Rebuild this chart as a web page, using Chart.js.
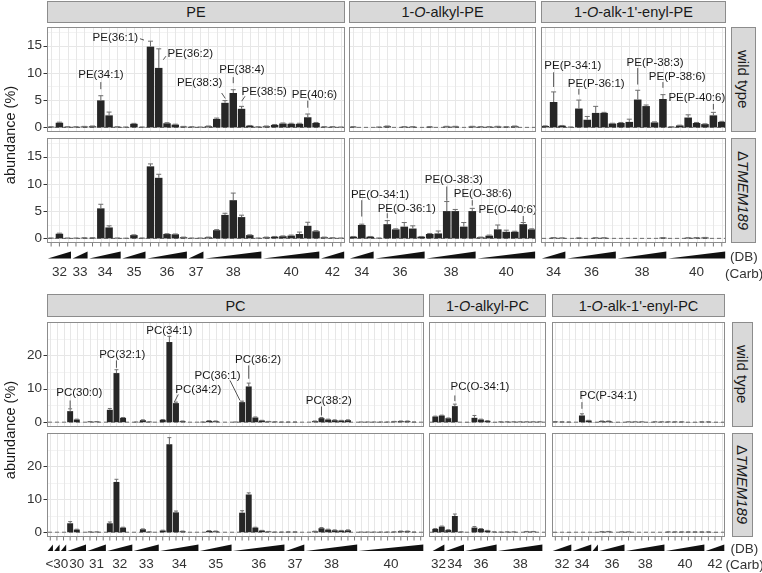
<!DOCTYPE html>
<html>
<head>
<meta charset="utf-8">
<title>PE / PC species</title>
<script src="https://cdn.jsdelivr.net/npm/chart.js@4.4.1/dist/chart.umd.min.js"></script>
<style>
  html, body { margin: 0; padding: 0; background: #fff; }
  body { position: relative; width: 762px; height: 573px; overflow: hidden; font-family: "Liberation Sans", Arial, sans-serif; }
  canvas { position: absolute; left: 0; top: 0; }
  .strip { position: absolute; box-sizing: border-box; background: #d9d9d9; border: 1px solid #8c8c8c; display: flex; align-items: center; justify-content: center; font-size: 14.5px; color: #1a1a1a; white-space: nowrap; }
  .strip.v { font-size: 15px; }
  .strip.v span { writing-mode: vertical-rl; }
  .txt { position: absolute; font-size: 13.5px; color: #333; white-space: nowrap; transform: translateY(-50%); }
  .ytitle { position: absolute; font-size: 14.5px; color: #1a1a1a; white-space: nowrap; transform: translate(-50%, -50%) rotate(-90deg); }
</style>
</head>
<body>
<script>
// carbon groups: [carbons, first DB, species in group, optional tick label]
const peGroups = [[32,0,3],[33,0,2],[34,0,4],[35,0,3],[36,1,5],[37,1,2],[38,1,7],[40,1,7],[42,4,3]];
const peOGroups = [[34,0,3],[36,0,6],[38,1,6],[40,1,7]];
const pePGroups = [[34,0,3],[36,0,6],[38,1,6],[40,1,7]];
const pcGroups = [[26,0,1,''],[28,0,1,'<30'],[29,0,1,''],[30,0,3],[31,0,3],[32,0,4],[33,0,4],[34,0,6],[35,0,5],[36,0,8],[37,0,3],[38,0,8],[40,0,10]];
const pcOGroups = [[32,0,2],[34,0,3],[36,0,5],[38,0,7]];
const pcPGroups = [[32,0,3],[34,0,3],[35,0,1,''],[36,0,4],[38,0,6],[40,0,6],[42,0,3]];

const peTicks = [0, 5, 10, 15], peMinor = [2.5, 7.5, 12.5, 17.5];
const pcTicks = [0, 10, 20], pcMinor = [5, 15, 25];

// PE diacyl
const peWt = [0.1,0.85,0.1, 0.1,0.15, 0.2,4.95,2.2,0.1, 0.05,0.65,0.05, 14.8,10.9,0.75,0.5,0.15, 0.1,0.05, 0.2,1.55,4.5,6.3,3.4,0.3,0.1, 0.2,0.45,0.7,0.65,0.65,1.85,0.8, 0.1,0.1,0.05];
const peWtSd = [0.02,0.1,0.02, 0.02,0.03, 0.05,0.85,0.6,0.02, 0.02,0.08,0.02, 1.0,3.5,0.1,0.08,0.03, 0.02,0.02, 0.05,0.15,0.4,0.6,0.45,0.05,0.02, 0.05,0.08,0.1,0.1,0.1,0.6,0.1, 0.03,0.03,0.02];
const peKo = [0.05,0.85,0.05, 0.05,0.1, 0.1,5.5,2.0,0.05, 0.02,0.6,0.05, 13.2,11.1,0.8,0.75,0.2, 0.05,0.05, 0.2,1.5,4.3,7.0,3.9,0.6,0.05, 0.2,0.3,0.4,0.5,0.8,2.3,1.3, 0.2,0.1,0.05];
const peKoSd = [0.02,0.1,0.02, 0.02,0.02, 0.02,0.75,0.3,0.02, 0.01,0.05,0.02, 0.45,0.65,0.05,0.05,0.03, 0.02,0.02, 0.03,0.1,0.3,1.3,0.35,0.05,0.02, 0.03,0.05,0.05,0.1,0.35,0.65,0.1, 0.03,0.02,0.02];
// PE 1-O-alkyl
const peOWt = [0.1,0,0, 0.05,0.2,0,0.1,0.1,0, 0.1,0,0.15,0.15,0,0.15, 0.1,0.1,0.15,0.1,0.2,0,0];
const peOWtSd = [0.03,0,0, 0.02,0.05,0,0.03,0.03,0, 0.03,0,0.04,0.04,0,0.04, 0.03,0.03,0.04,0.03,0.05,0,0];
const peOKo = [0.3,2.45,0.3, 0.05,2.6,1.65,2.15,1.8,0.3, 0.8,0.9,5.0,5.0,2.15,5.0, 0.2,0.5,1.65,1.2,1.2,2.6,1.65];
const peOKoSd = [0.05,0.15,0.05, 0.02,0.65,0.1,0.75,0.5,0.05, 0.1,0.45,1.75,0.3,0.75,0.5, 0.03,0.1,0.8,0.3,0.1,0.3,0.1];
// PE 1-O-alk-1'-enyl
const pePWt = [0.25,4.65,0.3, 0.05,3.45,1.4,2.65,2.65,0.7, 0.8,1.0,5.1,3.9,0.9,5.2, 0.1,0.35,1.8,0.8,0.6,2.2,1.0];
const pePWtSd = [0.03,1.85,0.05, 0.02,1.55,0.6,1.2,0.1,0.05, 0.1,0.5,1.7,0.2,0.1,0.8, 0.02,0.05,0.5,0.1,0.05,0.55,0.1];
const pePKo = [0,0.12,0.08, 0,0.08,0,0.1,0.1,0, 0,0,0,0,0,0.12, 0,0,0.1,0.12,0.15,0,0];
const pePKoSd = [0,0.02,0.02, 0,0.02,0,0.02,0.02,0, 0,0,0,0,0,0.02, 0,0,0.02,0.02,0.02,0,0];
// PC diacyl
const pcWt = [0,0,0, 3.3,0.8,0, 0.15,0.15,0, 3.7,14.7,1.3,0, 0.05,0.6,0.1,0, 0.7,24.0,5.7,0.3,0,0, 0.05,0.4,0.3,0,0, 0.05,6.0,10.7,1.4,0.5,0.2,0.1,0.05, 0.05,0.05,0, 0,0.3,1.2,0.8,0.6,0.5,0.6,0, 0.05,0.05,0.05,0.05,0.05,0.2,0.3,0.3,0.05,0];
const pcWtSd = [0,0,0, 0.7,0.1,0, 0.03,0.03,0, 0.4,1.0,0.1,0, 0.02,0.1,0.02,0, 0.1,1.7,0.3,0.05,0,0, 0.02,0.05,0.05,0,0, 0.02,0.3,1.0,0.15,0.05,0.03,0.02,0.02, 0.02,0.02,0, 0,0.05,0.2,0.1,0.1,0.05,0.1,0, 0.02,0.02,0.02,0.02,0.02,0.03,0.05,0.05,0.02,0];
const pcKo = [0,0,0, 2.7,0.8,0, 0.1,0.1,0, 2.7,15.2,1.4,0, 0,0.9,0.1,0, 0.5,26.6,6.0,0.3,0,0, 0,0.4,0.3,0,0, 0,5.9,11.4,1.4,0.5,0.2,0.05,0.05, 0.1,0.1,0, 0,0.25,1.2,0.8,0.6,0.5,0.6,0, 0.05,0.05,0.05,0.05,0.05,0.1,0.3,0.3,0.05,0];
const pcKoSd = [0,0,0, 0.5,0.1,0, 0.02,0.02,0, 0.4,0.8,0.1,0, 0,0.1,0.02,0, 0.1,2.0,0.4,0.05,0,0, 0,0.05,0.05,0,0, 0,0.6,0.5,0.1,0.05,0.03,0.02,0.02, 0.02,0.02,0, 0,0.05,0.2,0.1,0.1,0.05,0.1,0, 0.02,0.02,0.02,0.02,0.02,0.03,0.05,0.05,0.02,0];
// PC 1-O-alkyl
const pcOWt = [1.7,2.0, 1.2,4.8,0, 0.05,1.3,0.8,0.4,0.05, 0.1,0.1,0.1,0.1,0.1,0.1,0.1];
const pcOWtSd = [0.1,0.1, 0.05,0.6,0, 0,0.7,0.1,0.05,0, 0.02,0.02,0.02,0.02,0.02,0.02,0.02];
const pcOKo = [1.0,1.7, 0.7,4.9,0.1, 0,1.4,1.0,0.5,0.1, 0.05,0.1,0.1,0,0.2,0.2,0];
const pcOKoSd = [0.1,0.15, 0.05,0.6,0.02, 0,0.3,0.1,0.05,0.02, 0.02,0.02,0.02,0,0.03,0.03,0];
// PC 1-O-alk-1'-enyl
const pcPWt = [0.15,0.1,0.05, 0,2.0,0.5, 0.05, 0.3,0.3,0.05,0.05, 0.1,0.1,0.1,0.05,0.1,0.1, 0.1,0.1,0.1,0.05,0.05,0.1, 0.1,0.05,0.05];
const pcPWtSd = [0.02,0.02,0.02, 0,0.5,0.05, 0, 0.05,0.05,0,0, 0.02,0.02,0.02,0,0.02,0.02, 0.02,0.02,0.02,0,0,0.02, 0.02,0,0];
const pcPKo = [0.05,0,0.05, 0,0,0, 0.05, 0.15,0.2,0,0.1, 0.1,0,0,0,0,0, 0.1,0.1,0.1,0.1,0.1,0.1, 0.1,0.05,0];
const pcPKoSd = [0,0,0, 0,0,0, 0, 0.02,0.03,0,0.02, 0.02,0,0,0,0,0, 0.02,0.02,0.02,0.02,0.02,0.02, 0.02,0,0];

// labels: [text, text x (category index), text y (value), leader from (x, y) to (x, y)]
const peWtNotes = [
  ['PE(34:1)', 6.02, 9.7, 6, 8.3, 6, 7.0],
  ['PE(36:1)', 7.75, 16.4, 10.73, 16.25, 11.22, 16.0],
  ['PE(36:2)', 16.81, 13.5, 13.87, 13.05, 13.55, 12.4],
  ['PE(38:3)', 17.95, 8.15, 20.6, 6.3, 21.04, 5.3],
  ['PE(38:4)', 23.05, 10.6, 22, 9.2, 22, 8.1],
  ['PE(38:5)', 25.74, 6.43, 23.42, 5.7, 23.02, 4.8],
  ['PE(40:6)', 31.81, 5.9, 31, 4.9, 31, 3.6]
];
const peOKoNotes = [
  ['PE(O-34:1)', 3.15, 7.96, 1, 7.0, 1, 4.0],
  ['PE(O-36:1)', 6.29, 5.5, 4, 4.6, 4, 3.7],
  ['PE(O-38:3)', 11.83, 10.7, 11, 9.5, 11, 6.9],
  ['PE(O-38:6)', 15.24, 8.1, 14, 7.0, 14, 6.0],
  ['PE(O-40:6)', 18.17, 5.2, 20, 4.1, 20, 3.05]
];
const pePWtNotes = [
  ['PE(P-34:1)', 3.28, 11.2, 1, 10.1, 1, 7.4],
  ['PE(P-36:1)', 6.06, 8.0, 4, 7.06, 4, 6.0],
  ['PE(P-38:3)', 13.06, 11.8, 11, 10.9, 11, 7.85],
  ['PE(P-38:6)', 15.7, 9.26, 14, 8.3, 14, 7.25],
  ['PE(P-40:6)', 18.03, 5.5, 20, 4.3, 20, 3.25]
];
const pcWtNotes = [
  ['PC(30:0)', 4.38, 8.7, 3, 6.5, 3, 4.2],
  ['PC(32:1)', 10.87, 20.3, 10, 18.5, 10, 16.3],
  ['PC(34:1)', 17.98, 27.5],
  ['PC(34:2)', 22.38, 9.7, 19.35, 8.3, 18.75, 6.0],
  ['PC(36:1)', 25.28, 14.0, 27.17, 12.5, 28.68, 6.5],
  ['PC(36:2)', 31.4, 18.8, 30, 17.0, 30, 13.0],
  ['PC(38:2)', 42.1, 6.3, 41, 4.7, 41, 2.0]
];
const pcOWtNotes = [['PC(O-34:1)', 6.85, 10.5, 3, 8.0, 3, 6.3]];
const pcPWtNotes = [['PC(P-34:1)', 7.96, 8.0, 4, 6.0, 4, 4.0]];

// ---- layout ----
const W = 762, H = 573;
const FONT = '"Liberation Sans", Arial, sans-serif';
const TOP = { strip: [1, 23], rows: [[27, 132], [138, 243]], tri: [251.5, 258.5], carbY: 272.5, dbY: 256,
  min: -0.85, max: 18.4, ticks: peTicks, minor: peMinor, side: [731, 756], ytitle: 135 };
const BOT = { strip: [294, 317], rows: [[322, 427], [433, 537]], tri: [544.5, 551], carbY: 564, dbY: 547.5,
  min: -1.45, max: 30, ticks: pcTicks, minor: pcMinor, side: [731.5, 753], ytitle: 430 };

const facets = [
  { blk: TOP, name: 'PE', col: [47, 345], groups: peGroups, rows: [[peWt, peWtSd, peWtNotes], [peKo, peKoSd, []]] },
  { blk: TOP, name: '1-<i>O</i>-alkyl-PE', col: [349, 536], groups: peOGroups, rows: [[peOWt, peOWtSd, []], [peOKo, peOKoSd, peOKoNotes]] },
  { blk: TOP, name: "1-<i>O</i>-alk-1'-enyl-PE", col: [541, 726], groups: pePGroups, rows: [[pePWt, pePWtSd, pePWtNotes], [pePKo, pePKoSd, []]] },
  { blk: BOT, name: 'PC', col: [47, 424], groups: pcGroups, rows: [[pcWt, pcWtSd, pcWtNotes], [pcKo, pcKoSd, []]] },
  { blk: BOT, name: '1-<i>O</i>-alkyl-PC', col: [429, 546], inset: 3, groups: pcOGroups, rows: [[pcOWt, pcOWtSd, pcOWtNotes], [pcOKo, pcOKoSd, []]] },
  { blk: BOT, name: "1-<i>O</i>-alk-1'-enyl-PC", col: [552, 725], groups: pcPGroups, rows: [[pcPWt, pcPWtSd, pcPWtNotes], [pcPKo, pcPKoSd, []]] }
];

function catNames(groups) {
  const out = [];
  groups.forEach(g => { for (let k = 0; k < g[2]; k++) out.push(g[0] + ':' + (g[1] + k)); });
  return out;
}

function seg(ctx, ax, ay, bx, by) {
  ctx.beginPath(); ctx.moveTo(ax, ay); ctx.lineTo(bx, by); ctx.stroke();
}
const crisp = v => Math.round(v) + 0.5;

function facetPlugin(o) {
  return {
    id: 'facet',
    beforeDatasetsDraw(chart) {
      const ctx = chart.ctx, x = chart.scales.x, y = chart.scales.y;
      ctx.save();
      ctx.lineWidth = 1;
      ctx.strokeStyle = '#f3f3f3';
      o.blk.minor.forEach(v => { const p = crisp(y.getPixelForValue(v)); seg(ctx, o.x0, p, o.x1, p); });
      ctx.strokeStyle = '#e7e7e7';
      o.blk.ticks.forEach(v => { const p = crisp(y.getPixelForValue(v)); seg(ctx, o.x0, p, o.x1, p); });
      for (let i = 0; i < o.n; i++) { const p = crisp(x.getPixelForValue(i)); seg(ctx, p, o.y0, p, o.y1); }
      ctx.setLineDash([4, 3]);
      ctx.strokeStyle = '#4d4d4d';
      ctx.lineWidth = 0.8;
      const z = y.getPixelForValue(0);
      seg(ctx, o.x0 + 1, z, o.x1 - 1, z);
      ctx.restore();
    },
    afterDatasetsDraw(chart) {
      const ctx = chart.ctx, x = chart.scales.x, y = chart.scales.y;
      const step = x.getPixelForValue(1) - x.getPixelForValue(0);
      ctx.save();
      // error bars (upper whisker)
      ctx.strokeStyle = '#6e6e6e';
      ctx.lineWidth = 1;
      o.vals.forEach((v, i) => {
        const s = o.sd[i];
        if (!s) return;
        const cx = x.getPixelForValue(i), ya = y.getPixelForValue(v), yb = y.getPixelForValue(v + s);
        seg(ctx, cx, ya, cx, yb);
        seg(ctx, cx - step * 0.3, yb, cx + step * 0.3, yb);
      });
      // labels
      ctx.font = '11.5px ' + FONT;
      ctx.textAlign = 'center';
      ctx.textBaseline = 'middle';
      o.notes.forEach(n => {
        ctx.fillStyle = '#1a1a1a';
        ctx.fillText(n[0], x.getPixelForValue(n[1]), y.getPixelForValue(n[2]));
        if (n.length > 3) {
          ctx.strokeStyle = '#555';
          seg(ctx, x.getPixelForValue(n[3]), y.getPixelForValue(n[4]), x.getPixelForValue(n[5]), y.getPixelForValue(n[6]));
        }
      });
      // panel border
      ctx.strokeStyle = '#8c8c8c';
      ctx.lineWidth = 1;
      ctx.strokeRect(o.x0 + 0.5, o.y0 + 0.5, o.x1 - o.x0 - 1, o.y1 - o.y0 - 1);
      // y axis
      if (o.left) {
        ctx.font = '13.5px ' + FONT;
        ctx.textAlign = 'right';
        ctx.fillStyle = '#333';
        ctx.strokeStyle = '#333';
        o.blk.ticks.forEach(v => {
          const p = y.getPixelForValue(v);
          ctx.fillText(String(v), 42, p);
          seg(ctx, 43.5, crisp(p), o.x0, crisp(p));
        });
      }
      // x axis: ticks, DB wedges, carbon labels
      if (o.bottom) {
        ctx.strokeStyle = '#555';
        ctx.lineWidth = 0.8;
        for (let i = 0; i < o.n; i++) { const p = x.getPixelForValue(i); seg(ctx, p, o.y1, p, o.y1 + 3.5); }
        const [tt, tb] = o.blk.tri;
        ctx.font = '13.5px ' + FONT;
        ctx.textAlign = 'center';
        let start = 0;
        o.groups.forEach(g => {
          const f = start, l = start + g[2] - 1;
          start += g[2];
          const xa = x.getPixelForValue(f) - step * 0.4, xb = x.getPixelForValue(l) + step * 0.4;
          ctx.fillStyle = '#111';
          ctx.beginPath(); ctx.moveTo(xa, tb); ctx.lineTo(xb, tb); ctx.lineTo(xb, tt); ctx.closePath(); ctx.fill();
          const lab = g.length > 3 ? g[3] : String(g[0]);
          if (lab) {
            ctx.fillStyle = '#333';
            ctx.fillText(lab, (x.getPixelForValue(f) + x.getPixelForValue(l)) / 2, o.blk.carbY);
          }
        });
      }
      ctx.restore();
    }
  };
}

function addDiv(cls, html, css) {
  const d = document.createElement('div');
  d.className = cls;
  d.innerHTML = html;
  Object.assign(d.style, css);
  document.body.appendChild(d);
  return d;
}

function makePanel(f, ri, vals, sd, notes, left) {
  const b = f.blk, [x0, x1] = f.col, [y0, y1] = b.rows[ri], ins = f.inset || 0;
  const labels = catNames(f.groups);
  const cv = document.createElement('canvas');
  cv.width = W; cv.height = H;
  cv.style.width = W + 'px'; cv.style.height = H + 'px';
  document.body.appendChild(cv);
  new Chart(cv, {
    type: 'bar',
    data: {
      labels,
      datasets: [{ data: vals, backgroundColor: '#262626', borderWidth: 0, barPercentage: 0.9, categoryPercentage: 1 }]
    },
    options: {
      responsive: false,
      animation: false,
      events: [],
      layout: { padding: { left: x0 + ins, right: W - x1 + ins, top: y0, bottom: H - y1 } },
      scales: {
        x: { display: false, offset: true },
        y: { display: false, min: b.min, max: b.max }
      },
      plugins: { legend: { display: false }, tooltip: { enabled: false } }
    },
    plugins: [facetPlugin({ blk: b, x0, x1, y0, y1, n: labels.length, vals, sd, notes, groups: f.groups, left, bottom: ri === 1 })]
  });
}

facets.forEach((f, fi) => {
  const b = f.blk;
  addDiv('strip', f.name, { left: f.col[0] + 'px', top: b.strip[0] + 'px', width: (f.col[1] - f.col[0]) + 'px', height: (b.strip[1] - b.strip[0]) + 'px' });
  f.rows.forEach((r, ri) => makePanel(f, ri, r[0], r[1], r[2], fi % 3 === 0));
});

[TOP, BOT].forEach(b => {
  const rowNames = ['<span>wild type</span>', '<span>\u0394<i>TMEM189</i></span>'];
  b.rows.forEach((r, ri) => {
    addDiv('strip v', rowNames[ri], { left: b.side[0] + 'px', top: r[0] + 'px', width: (b.side[1] - b.side[0]) + 'px', height: (r[1] - r[0]) + 'px' });
  });
  addDiv('ytitle', 'abundance (%)', { left: '10px', top: b.ytitle + 'px' });
  addDiv('txt', '(DB)', { left: (b.side[0] - 1) + 'px', top: b.dbY + 'px' });
  addDiv('txt', '(Carb)', { left: (b.side[0] - 6) + 'px', top: b.carbY + 'px' });
});
</script>
</body>
</html>
